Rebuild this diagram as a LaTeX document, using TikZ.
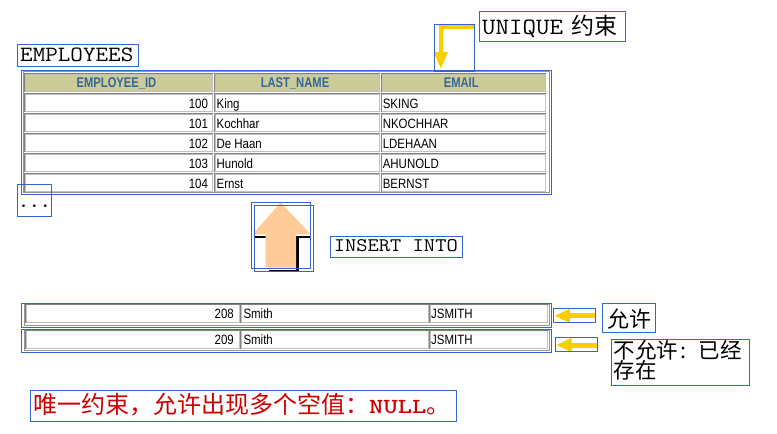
\documentclass[tikz,border=0pt]{standalone}
\usepackage{fontspec}
\usepackage{graphicx}
\setmainfont{Liberation Sans}
\newfontfamily\cjkf{Noto Sans CJK SC}
\newfontfamily\cellf[FakeStretch=0.85]{Liberation Sans}
\newfontfamily\hdrf[FakeStretch=0.8]{Liberation Sans Bold}
\newfontfamily\lmbold[Extension=.otf]{lmmonolt10-bold}
\usetikzlibrary{fit,arrows.meta,calc}
\definecolor{boxblue}{RGB}{51,102,204}
\definecolor{hdrfill}{RGB}{204,204,153}
\definecolor{hdrtext}{RGB}{51,102,153}
\definecolor{celldark}{RGB}{128,128,128}
\definecolor{celllight}{RGB}{192,192,192}
\definecolor{tablegrey}{RGB}{150,150,150}
\definecolor{arrowyellow}{RGB}{255,204,0}
\definecolor{peach}{RGB}{255,204,153}
\definecolor{notered}{RGB}{204,0,0}
% mono text: size, horizontal scale, text
\newcommand\monotxt[3]{\scalebox{#2}[1]{\fontsize{#1}{#1}\selectfont\ttfamily #3}}
\newcommand\monobold[3]{\scalebox{#2}[1]{\fontsize{#1}{#1}\selectfont\lmbold #3}}
\tikzset{
  bluebox/.style={draw=boxblue, line width=1pt, inner sep=0pt},
  cellbox/.style={draw=celllight, line width=1pt, inner sep=0pt},
  celledge/.style={draw=celldark, line width=1pt},
  tableedge/.style={draw=tablegrey, line width=1pt, inner sep=0pt},
  hdrtxt/.style={font=\hdrf\fontsize{14}{14}\selectfont, text=hdrtext, inner sep=0pt, anchor=base},
  celltxt/.style={font=\cellf\fontsize{13.5}{14}\selectfont, inner sep=0pt},
  labeltxt/.style={inner sep=0pt, anchor=base west},
  yarrow/.style={draw=arrowyellow, line width=5pt, -{Triangle[length=15.5pt,width=13pt]}},
  yarrowtop/.style={draw=arrowyellow, line width=4.5pt, miter limit=10, -{Triangle[length=17pt,width=13pt]}},
  shadowline/.style={draw=black, line width=2.4pt},
}
\newcommand\tabcell[6]{%
  \node[cellbox, fill=#6, fit={(#2,#3) (#4,#5)}] (#1) {};
  \draw[celledge] (#1.south west) -- (#1.north west) -- (#1.north east);}
\begin{document}
\begin{tikzpicture}[x=1pt,y=-1pt]
\useasboundingbox (0,0) rectangle (777,434);

% ---------- EMPLOYEES table ----------
\node[tableedge, fit={(23.3,71.7) (549.3,192.5)}] (emptableinner) {};
\tabcell{h1}{25}{74}{212.3}{91.3}{hdrfill}
\tabcell{h2}{215}{74}{379.5}{91.3}{hdrfill}
\tabcell{h3}{381.5}{74}{545.7}{91.3}{hdrfill}
\node[hdrtxt] (t-h1) at (116.5,87.8) {EMPLOYEE\_ID};
\node[hdrtxt] (t-h2) at (295,87.8) {LAST\_NAME};
\node[hdrtxt] (t-h3) at (461.2,87.8) {EMAIL};
\foreach \r/\top/\id/\nm/\em in {1/94/100/King/SKING, 2/114/101/Kochhar/NKOCHHAR, 3/134/102/De Haan/LDEHAAN, 4/154/103/Hunold/AHUNOLD, 5/174/104/Ernst/BERNST}{
  \pgfmathsetmacro\bot{\top+17.5}
  \pgfmathsetmacro\base{\top+14.1}
  \tabcell{r\r a}{25}{\top}{212.3}{\bot}{white}
  \tabcell{r\r b}{215}{\top}{379.5}{\bot}{white}
  \tabcell{r\r c}{381.5}{\top}{545.7}{\bot}{white}
  \node[celltxt, anchor=base east] (id\r) at (208.2,\base) {\id};
  \node[celltxt, anchor=base west] (nm\r) at (216.4,\base) {\nm};
  \node[celltxt, anchor=base west] (em\r) at (382.6,\base) {\em};
}
\node[bluebox, fit={(21.7,70) (551.7,194)}] (emptable) {};

% labels
\node[bluebox, fit={(17.3,44) (138,66)}] (empbox) {};
\node[labeltxt] (emptitle) at (20,61) {\monotxt{21.8}{1.12}{EMPLOYEES}};
\node[bluebox, fit={(17.3,184) (51.3,216)}] (dotsbox) {};
\node[labeltxt] (dots) at (17.8,207.5) {\monobold{19}{1.1}{...}};

\node[bluebox, fit={(479.3,11.3) (625.7,41.3)}] (uniquebox) {};
\node[labeltxt] (uniquetxt) at (482,34.3) {\monotxt{23.4}{1.12}{UNIQUE}\hspace{8pt}{\cjkf\fontsize{23}{24}\selectfont 约束}};

% top yellow arrow
\coordinate (ua1) at (474,26.8);
\coordinate (ua2) at (440.8,26.8);
\coordinate (ua3) at (440.8,69);
\draw[yarrowtop] (ua1) -- (ua2) -- (ua3);
\node[bluebox, fit={(434.3,24.3) (474.3,71)}] (uabox) {};

% up arrow with shadow
\draw[shadowline] (255,237) -- (265.7,237);
\draw[shadowline] (296,237) -- (311,237);
\draw[shadowline] (297.4,235.5) -- (297.4,271.2);
\draw[shadowline] (269,271) -- (298.6,271);
\fill[peach] (280.7,202.3) -- (310.7,234.3) -- (296,234.3) -- (296,267.7) -- (265.7,267.7) -- (265.7,234.3) -- (252.7,234.3) -- cycle;
\node[bluebox, fit={(251,202.3) (310.7,268.3)}] (upbox1) {};
\node[bluebox, fit={(254,205) (313.3,271)}] (upbox2) {};

\node[bluebox, fit={(330,236) (462.7,257.3)}] (insertbox) {};
\node[labeltxt] (inserttxt) at (333.6,251) {\monotxt{19.2}{1.14}{INSERT INTO}};

% ---------- new rows ----------
\node[tableedge, fit={(24.3,304) (549.5,325.3)}] (rowAinner) {};
\tabcell{a1}{26}{304.5}{239}{322.5}{white}
\tabcell{a2}{241}{304.5}{428.3}{322.5}{white}
\tabcell{a3}{430}{304.5}{547}{322.5}{white}
\node[celltxt, anchor=base east] (aid) at (234,318.7) {208};
\node[celltxt, anchor=base west] (anm) at (243.3,318.7) {Smith};
\node[celltxt, anchor=base west] (aem) at (431,318.7) {JSMITH};
\node[bluebox, fit={(21.3,303.3) (551.7,327.3)}] (rowA) {};

\node[tableedge, fit={(24.3,330) (549.5,350.3)}] (rowBinner) {};
\tabcell{b1}{26}{330.7}{239}{348}{white}
\tabcell{b2}{241}{330.7}{428.3}{348}{white}
\tabcell{b3}{430}{330.7}{547}{348}{white}
\node[celltxt, anchor=base east] (bid) at (234,344.3) {209};
\node[celltxt, anchor=base west] (bnm) at (243.3,344.3) {Smith};
\node[celltxt, anchor=base west] (bem) at (431,344.3) {JSMITH};
\node[bluebox, fit={(21.3,329.3) (551.7,352.3)}] (rowB) {};

% bottom arrows
\coordinate (la1s) at (595.5,315.8);
\coordinate (la1e) at (554.3,315.8);
\draw[yarrow] (la1s) -- (la1e);
\node[bluebox, fit={(553.3,308.3) (595.7,322.3)}] (la1box) {};
\coordinate (la2s) at (597,345);
\coordinate (la2e) at (556,345);
\draw[yarrow] (la2s) -- (la2e);
\node[bluebox, fit={(555,337.7) (597.3,351.7)}] (la2box) {};

\node[bluebox, fit={(602.3,303.3) (655.7,332.3)}] (allowbox) {};
\node[labeltxt, font=\cjkf\fontsize{22}{22}\selectfont] (allowtxt) at (607,327.3) {允许};

\node[bluebox, fit={(611.7,339.3) (749.3,385.7)}] (denybox) {};
\node[labeltxt, font=\cjkf\fontsize{21.5}{21.5}\selectfont] (denytxt1) at (613.3,358.3) {不允许\hspace{3pt}:\hspace{12pt}已经};
\node[labeltxt, font=\cjkf\fontsize{21.5}{21.5}\selectfont] (denytxt2) at (613.3,378.8) {存在};

% note
\node[bluebox, fit={(30.3,390) (456.7,421)}] (notebox) {};
\node[labeltxt, text=notered] (notetxt) at (33,413.5) {{\cjkf\fontsize{24}{24}\selectfont 唯一约束，允许出现多个空值：}\monobold{21.5}{1.27}{NULL}{\cjkf\fontsize{24}{24}\selectfont 。}};
\end{tikzpicture}
\end{document}
